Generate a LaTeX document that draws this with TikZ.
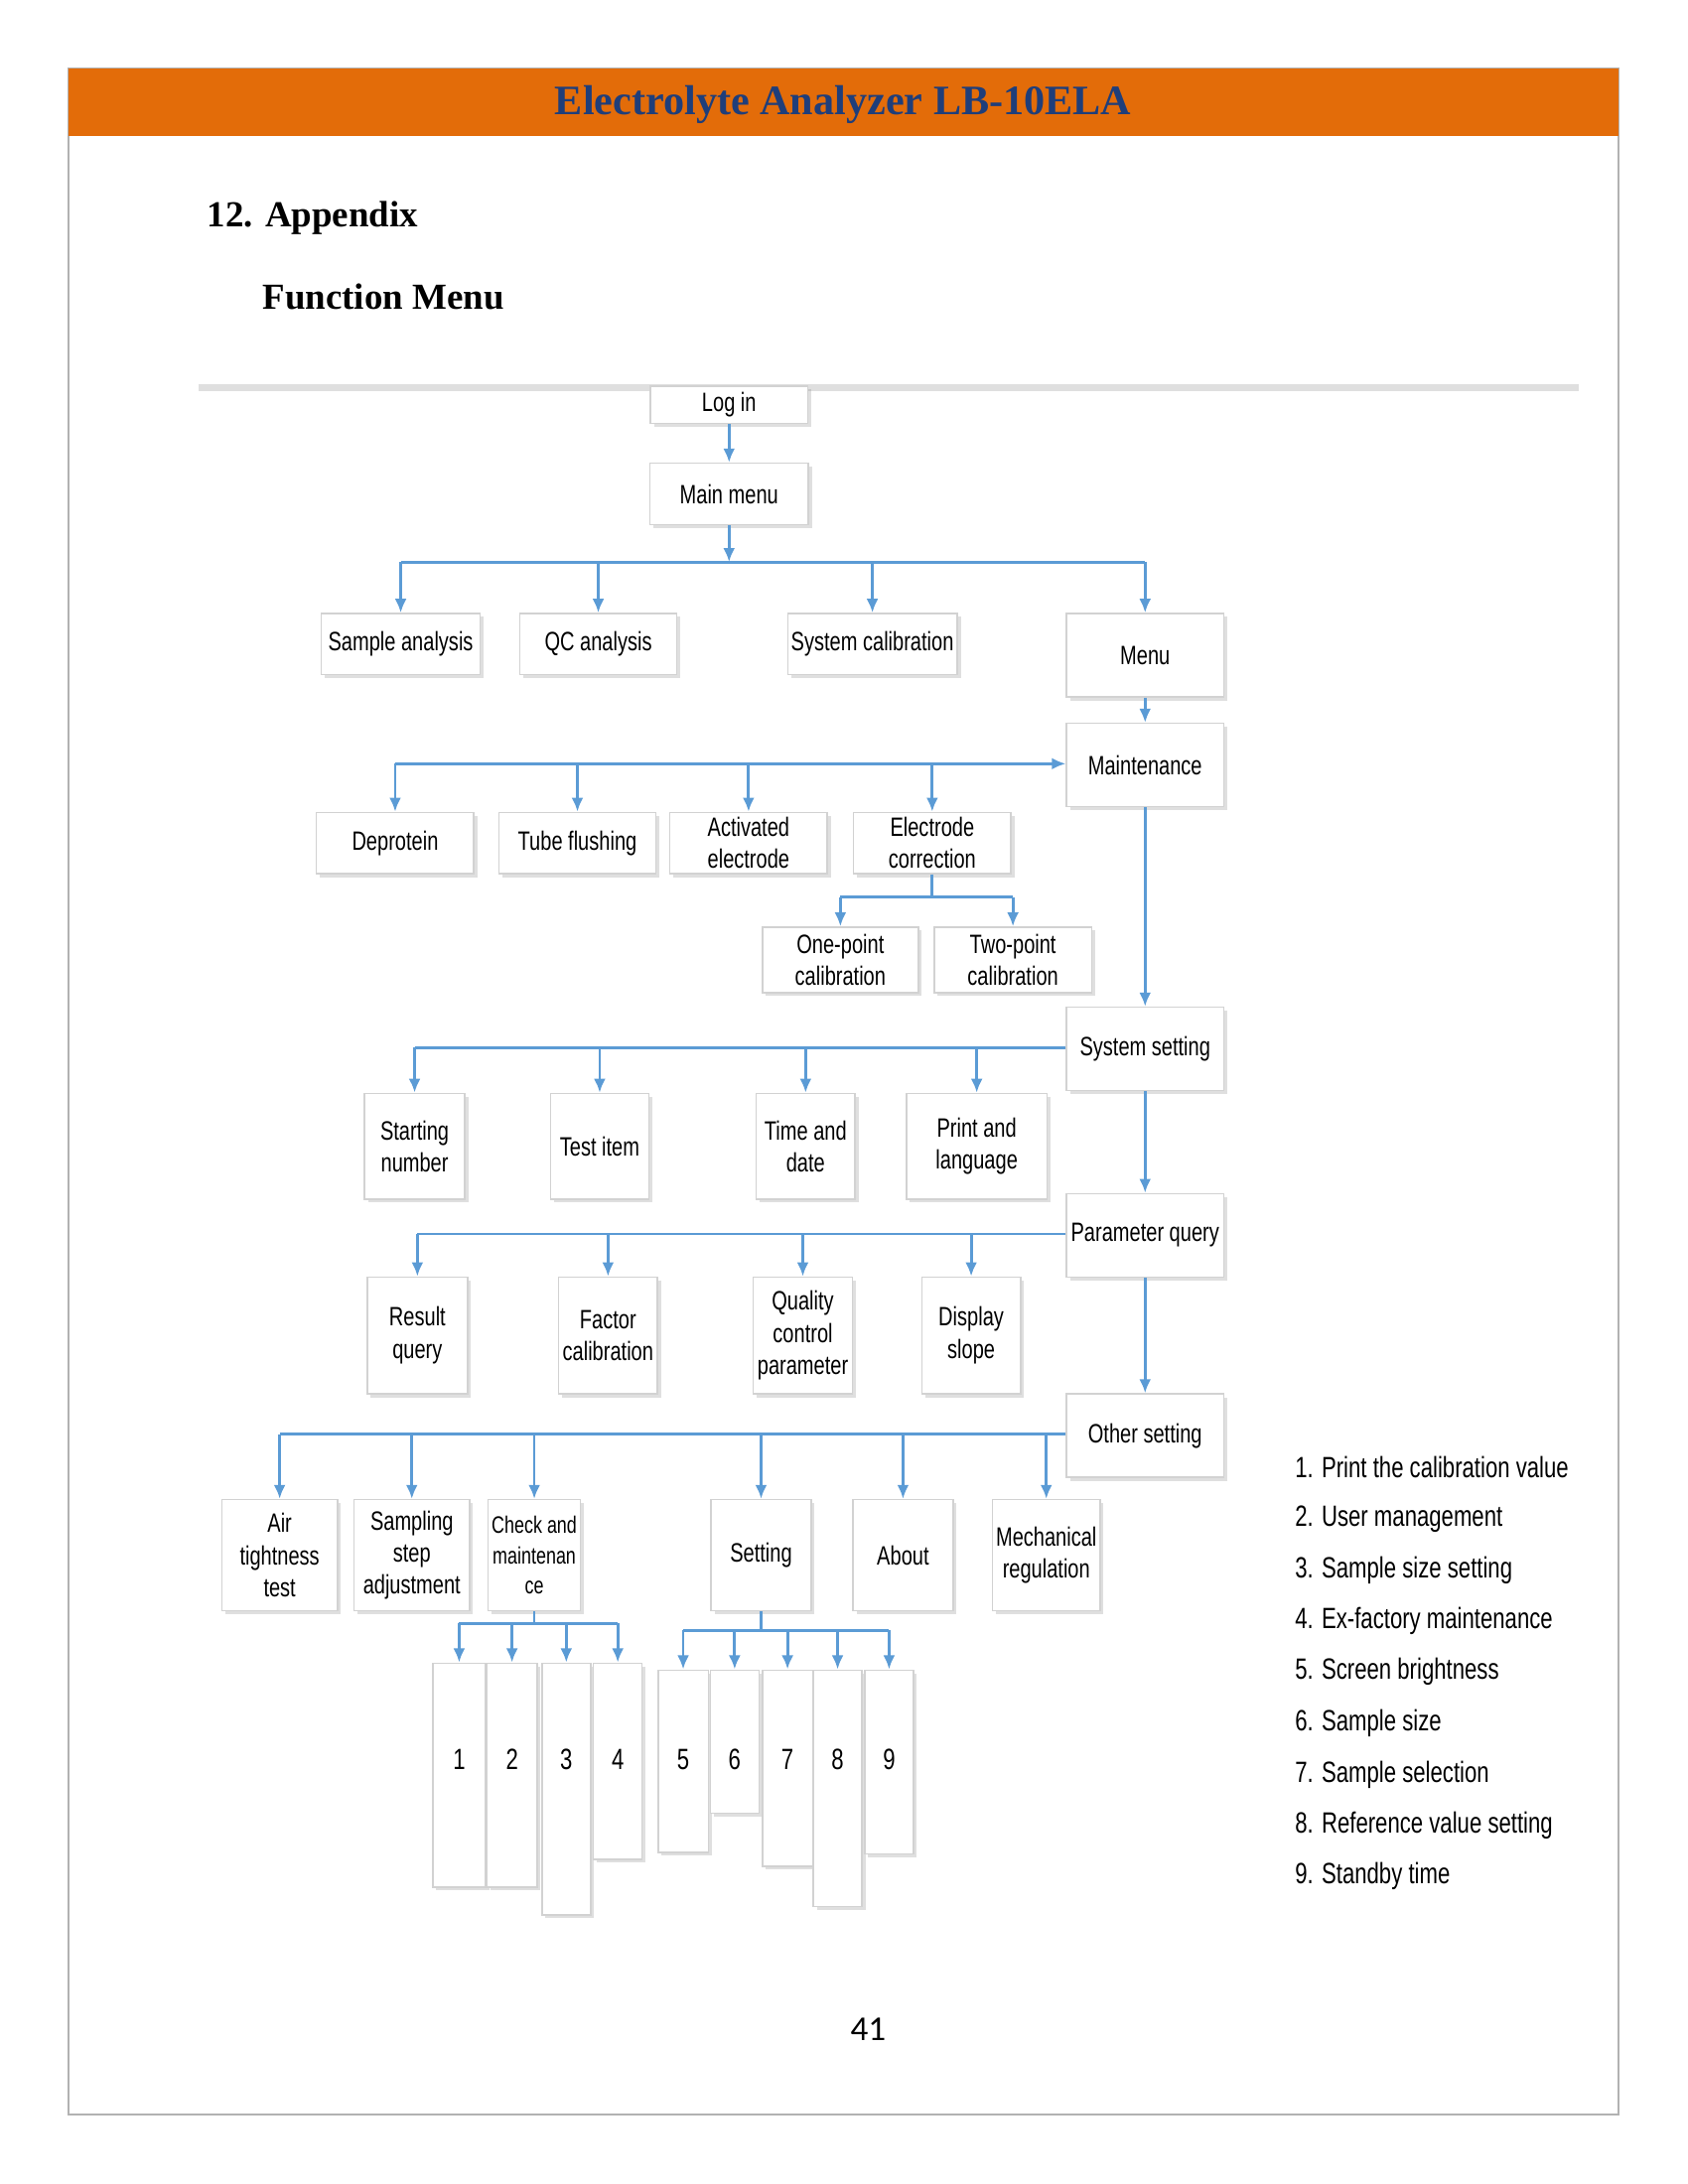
\documentclass[tikz,border=0pt]{standalone}
\usepackage{fontspec}
\setmainfont{Liberation Serif}
\newfontfamily\narrowsf{Liberation Sans}[FakeStretch=0.75]
\newfontfamily\pagefont{Carlito}
\usepackage{xcolor}
\usetikzlibrary{arrows.meta,positioning,shadows}
\definecolor{headorange}{HTML}{E36C09}
\definecolor{headblue}{HTML}{1F3E7A}
\definecolor{linkblue}{HTML}{5B9BD5}
\def\u{0.014015cm}
\tikzset{
  box/.style 2 args={draw=gray!35,fill=white,drop shadow={shadow xshift=1pt,shadow yshift=-1pt,opacity=0.25},
    minimum width=#1*\u,minimum height=#2*\u,inner sep=1pt,align=center,
    font=\narrowsf\fontsize{7.6}{9.2}\selectfont},
  bus/.style={linkblue,line width=0.8pt},
  arr/.style={linkblue,line width=0.8pt,-{Latex[length=4pt,width=3.4pt]}},
  legend/.style={anchor=west,font=\narrowsf\fontsize{8.4}{10}\selectfont},
  num/.style={font=\narrowsf\fontsize{8.4}{10}\selectfont}
}
\begin{document}
\begin{tikzpicture}[x=0.014015cm,y=-0.014015cm]
\useasboundingbox (0,0) rectangle (1213,1570);
% Page frame and header
\draw[gray!60,line width=0.6pt] (49,49) rectangle (1163,1520);
\fill[headorange] (49,49) rectangle (1163,98);
\node[font=\bfseries\fontsize{12}{14}\selectfont,text=headblue] (title) at (606,75) {Electrolyte Analyzer LB-10ELA};
\node[anchor=west,font=\bfseries\fontsize{10.5}{12}\selectfont] (sec) at (140,157) {12. Appendix};
\node[anchor=west,font=\bfseries\fontsize{10.5}{12}\selectfont] (sub) at (180,213) {Function Menu};
\draw[gray!25,line width=2pt] (143,279) -- (1135,279);

% Top levels
\node[box={113}{27}] (login) at (524,291) {Log in};
\node[box={114}{44}] (main) at (524,355) {Main menu};
\node[box={114}{44}] (sample) at (288,463) {Sample analysis};
\node[box={113}{44}] (qc) at (430,463) {QC analysis};
\node[box={115}{44}] (syscal) at (627,463) {System calibration};
\node[box={113}{60}] (menu) at (823,471) {Menu};
\node[box={113}{60}] (maint) at (823,550) {Maintenance};
\node[box={113}{60}] (sysset) at (823,754) {System setting};
\node[box={113}{60}] (param) at (823,888) {Parameter query};
\node[box={113}{60}] (other) at (823,1032) {Other setting};
\draw[arr] (login) -- (main);
\coordinate (b1) at (524,404);
\draw[arr] (main) -- (b1);
\draw[bus] (sample.north |- b1) -- (menu.north |- b1);
\foreach \n in {sample,qc,syscal,menu}
  \draw[arr] (\n.north |- b1) -- (\n.north);
\draw[arr] (menu) -- (maint);
\draw[arr] (maint) -- (sysset);
\draw[arr] (sysset) -- (param);
\draw[arr] (param) -- (other);

% Maintenance branch
\node[box={113}{44}] (deprot) at (284,606) {Deprotein};
\node[box={113}{44}] (tube) at (415,606) {Tube flushing};
\node[box={113}{44}] (activ) at (538,606) {Activated\\electrode};
\node[box={113}{44}] (ecorr) at (670,606) {Electrode\\correction};
\node[box={112}{47}] (onept) at (604,690) {One-point\\calibration};
\node[box={113}{47}] (twopt) at (728,690) {Two-point\\calibration};
\coordinate (b2) at (284,549);
\draw[bus] (b2) -- (ecorr.north |- b2);
\draw[arr] (ecorr.north |- b2) -- (maint.west |- b2);
\foreach \n in {deprot,tube,activ,ecorr}
  \draw[arr] (\n.north |- b2) -- (\n.north);
\coordinate (b3) at (670,645);
\draw[bus] (ecorr) -- (b3);
\draw[bus] (onept.north |- b3) -- (twopt.north |- b3);
\foreach \n in {onept,twopt}
  \draw[arr] (\n.north |- b3) -- (\n.north);

% System setting branch
\node[box={72}{76}] (start) at (298,824) {Starting\\number};
\node[box={71}{76}] (testit) at (431,824) {Test item};
\node[box={71}{76}] (time) at (579,824) {Time and\\date};
\node[box={101}{76}] (print) at (702,824) {Print and\\language};
\coordinate (b4) at (298,753);
\draw[bus] (b4) -- (sysset.west |- b4);
\foreach \n in {start,testit,time,print}
  \draw[arr] (\n.north |- b4) -- (\n.north);

% Parameter query branch
\node[box={72}{84}] (result) at (300,960) {Result\\query};
\node[box={71}{84}] (factor) at (437,960) {Factor\\calibration};
\node[box={71}{84}] (quality) at (577,960) {Quality\\control\\parameter};
\node[box={71}{84}] (slope) at (698,960) {Display\\slope};
\coordinate (b5) at (300,887);
\draw[bus] (b5) -- (param.west |- b5);
\foreach \n in {result,factor,quality,slope}
  \draw[arr] (\n.north |- b5) -- (\n.north);

% Other setting branch
\node[box={83}{80}] (air) at (201,1118) {Air\\tightness\\test};
\node[box={83}{80}] (samp) at (296,1118) {Sampling\\step\\adjustment};
\node[box={64}{80},font=\narrowsf\fontsize{6.8}{8.6}\selectfont] (check) at (384,1118) {Check and\\maintenan\\ce};
\node[box={72}{80}] (setting) at (547,1118) {Setting};
\node[box={72}{80}] (about) at (649,1118) {About};
\node[box={73}{80}] (mech) at (752,1118) {Mechanical\\regulation};
\coordinate (b6) at (201,1031);
\draw[bus] (b6) -- (other.west |- b6);
\foreach \n in {air,samp,check,setting,about,mech}
  \draw[arr] (\n.north |- b6) -- (\n.north);

% Numbered boxes
\node[box={38}{161},anchor=north] (n1) at (330,1195) {};
\node[box={36}{161},anchor=north] (n2) at (368,1195) {};
\node[box={35}{181},anchor=north] (n3) at (407,1195) {};
\node[box={35}{141},anchor=north] (n4) at (444,1195) {};
\node[box={36}{131},anchor=north] (n5) at (491,1200) {};
\node[box={35}{103},anchor=north] (n6) at (528,1200) {};
\node[box={36}{141},anchor=north] (n7) at (566,1200) {};
\node[box={35}{170},anchor=north] (n8) at (602,1200) {};
\node[box={35}{132},anchor=north] (n9) at (639,1200) {};
\foreach \n/\t in {n1/1,n2/2,n3/3,n4/4,n5/5,n6/6,n7/7,n8/8,n9/9}
  \node[num] (l\n) at (\n.north |- 0,1265) {\t};
\coordinate (b7) at (384,1167);
\draw[bus] (check) -- (b7);
\draw[bus] (n1.north |- b7) -- (n4.north |- b7);
\foreach \n in {n1,n2,n3,n4}
  \draw[arr] (\n.north |- b7) -- (\n.north);
\coordinate (b8) at (547,1172);
\draw[bus] (setting) -- (b8);
\draw[bus] (n5.north |- b8) -- (n9.north |- b8);
\foreach \n in {n5,n6,n7,n8,n9}
  \draw[arr] (\n.north |- b8) -- (\n.north);

% Legend
\foreach \y/\t in {1055/1. Print the calibration value, 1092/2. User management, 1129/3. Sample size setting,
  1165/4. Ex-factory maintenance, 1202/5. Screen brightness, 1239/6. Sample size,
  1276/7. Sample selection, 1312/8. Reference value setting, 1349/9. Standby time}
  \node[legend] at (922,\y) {\t};

% Page number
\node[font=\pagefont\fontsize{10}{12}\selectfont] (pg) at (624,1459) {41};
\end{tikzpicture}
\end{document}
